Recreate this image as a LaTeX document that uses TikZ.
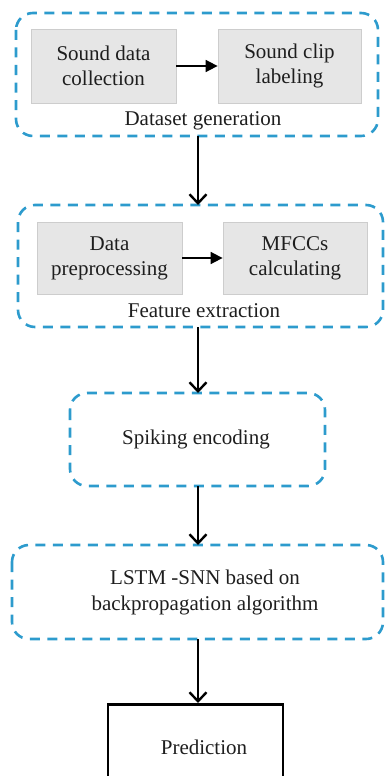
\documentclass[tikz,border=0pt]{standalone}
\usepackage{fontspec}
\setmainfont{Liberation Serif}
\usetikzlibrary{arrows.meta}
\definecolor{dashblue}{RGB}{45,155,205}
\definecolor{boxgray}{RGB}{230,230,230}
\definecolor{boxedge}{RGB}{205,205,205}
\definecolor{txt}{RGB}{30,30,30}
\tikzset{
  group/.style={draw=dashblue, line width=2.6pt, dash pattern=on 10pt off 7.5pt, rounded corners=17pt},
  inner/.style={draw=boxedge, fill=boxgray, line width=0.8pt},
  lbl/.style={font=\fontsize{21pt}{25pt}\selectfont, text=txt, align=center, inner sep=0pt},
  flow/.style={draw=black, line width=2.4pt, -{Straight Barb[length=9pt, width=17pt, line width=2.4pt]}},
  hflow/.style={draw=black, line width=1.7pt, -{Triangle[length=12pt, width=12pt]}},
}
\begin{document}
\begin{tikzpicture}[x=1pt, y=-1pt]
\useasboundingbox (0,0) rectangle (386,776);
% groups
\draw[group] (16,13) rectangle (378,136);
\coordinate (g1t) at (198,13); \coordinate (g1b) at (198,136);
\draw[group] (18,205) rectangle (383,327);
\coordinate (g2t) at (198,205); \coordinate (g2b) at (198,327);
\draw[group] (70,393) rectangle (325,486);
\coordinate (g3t) at (198,393); \coordinate (g3b) at (198,486);
\draw[group] (12,545) rectangle (383,639);
\coordinate (g4t) at (198,545); \coordinate (g4b) at (198,639);
% inner boxes
\node[inner, minimum width=145pt, minimum height=74pt] (sdc) at (103.5,66) {};
\node[lbl] at (sdc) {Sound data\\collection};
\node[inner, minimum width=143pt, minimum height=74pt] (scl) at (289.5,66) {};
\node[lbl] at (scl) {Sound clip\\labeling};
\node[lbl] (dg) at (203,121) {Dataset generation};
\node[inner, minimum width=145pt, minimum height=72pt] (dp) at (109.5,258) {};
\node[lbl] at (dp) {Data\\preprocessing};
\node[inner, minimum width=144pt, minimum height=72pt] (mf) at (295,258) {};
\node[lbl] at (mf) {MFCCs\\calculating};
\node[lbl] (fe) at (204,311) {Feature extraction};
\node[lbl] (se) at (196,439) {Spiking encoding};
\node[lbl, font=\fontsize{21pt}{26pt}\selectfont] (ls) at (205,592) {LSTM -SNN based on\\backpropagation algorithm};
% prediction
\node[draw=black, line width=2.8pt, minimum width=175pt, minimum height=120pt, anchor=north] (pr) at (195.5,703) {};
\node[lbl] (prt) at (204,747) {Prediction};
% arrows
\draw[hflow] (sdc.east) -- (scl.west);
\draw[hflow] (dp.east) -- (mf.west);
\draw[flow] (g1b) -- (g2t);
\draw[flow] (g2b) -- (g3t);
\draw[flow] (g3b) -- (g4t);
\draw[flow] (g4b) -- (g4b |- pr.north);
\end{tikzpicture}
\end{document}
